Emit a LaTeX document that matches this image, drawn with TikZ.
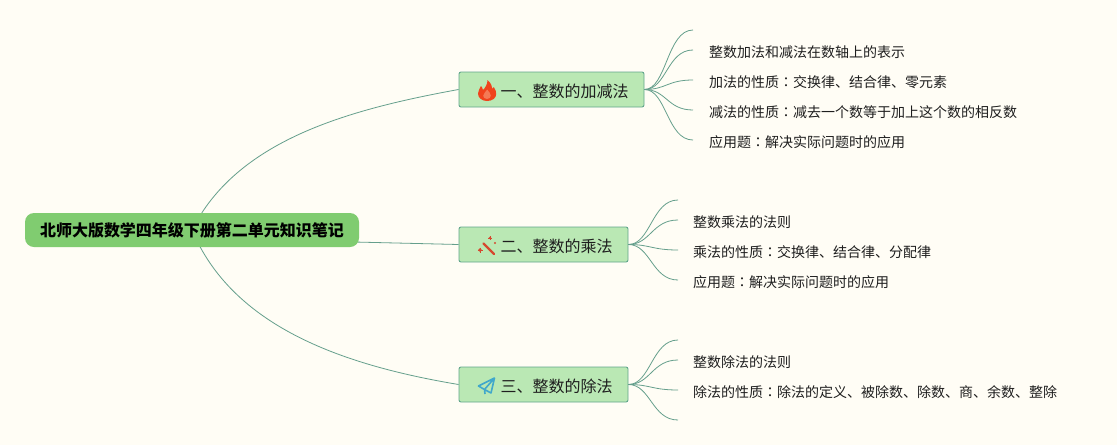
\documentclass[tikz,border=0pt]{standalone}
\usepackage{fontspec}
\setmainfont{Noto Sans CJK SC}
\newfontfamily\tcfont{Noto Sans CJK TC}
\newcommand{\zcolon}{{\tcfont ：}}
\usetikzlibrary{backgrounds}
\definecolor{pagebg}{HTML}{FFFDF5}
\definecolor{rootfill}{HTML}{80CC70}
\definecolor{branchfill}{HTML}{BAE8B4}
\definecolor{branchedge}{HTML}{62A68C}
\definecolor{linkcol}{HTML}{659F8C}
\definecolor{inkcol}{HTML}{1E1E1E}
\definecolor{flamecol}{HTML}{F0431C}
\definecolor{flameinner}{HTML}{F47A55}
\definecolor{wandcol}{HTML}{D5492F}
\definecolor{planecol}{HTML}{41A8CB}
\tikzset{
  x=1pt,y=-1pt,
  rootbox/.style={fill=rootfill,rounded corners=9pt,minimum width=334pt,minimum height=34pt,inner sep=0pt,text height=15.4pt,text depth=2pt,font=\fontsize{16}{16}\selectfont\bfseries,text=black},
  branchbox/.style={draw=branchedge,fill=branchfill,line width=0.9pt,rounded corners=2pt,minimum height=35pt,inner sep=0pt,text height=17pt,text depth=2pt,font=\fontsize{16}{16}\selectfont,text=inkcol},
  leaftext/.style={anchor=west,inner ysep=0pt,inner xsep=0pt,text height=16pt,text depth=1.6pt,font=\fontsize{14}{14}\selectfont,text=inkcol},
  link/.style={draw=linkcol,line width=0.8pt},
  sublink/.style={draw=linkcol,line width=0.8pt},
}
\newcommand{\leaflink}[2]{\draw[sublink] (#1.east) .. controls +(22,0) and +(-26,0) .. (#2);}
\begin{document}
\begin{tikzpicture}
\useasboundingbox (0,0) rectangle (1117,445);

\node[rootbox] (root) at (192,230) {北师大版数学四年级下册第二单元知识笔记};
\node[branchbox,minimum width=185pt] (b1) at (551.5,89.5) {\hspace{26pt}一、整数的加减法};
\node[branchbox,minimum width=169pt] (b2) at (543.5,244.5) {\hspace{26pt}二、整数的乘法};
\node[branchbox,minimum width=169pt] (b3) at (543.5,384.5) {\hspace{26pt}三、整数的除法};

% first branch leaves
\coordinate (e10) at (693,30);
\coordinate (e11) at (693,50);
\coordinate (e12) at (693,80);
\coordinate (e13) at (693,110);
\coordinate (e14) at (693,140);
\node[leaftext,xshift=16pt] (l11) at (e11) {整数加法和减法在数轴上的表示};
\node[leaftext,xshift=16pt] (l12) at (e12) {加法的性质\zcolon 交换律、结合律、零元素};
\node[leaftext,xshift=16pt] (l13) at (e13) {减法的性质\zcolon 减去一个数等于加上这个数的相反数};
\node[leaftext,xshift=16pt] (l14) at (e14) {应用题\zcolon 解决实际问题时的应用};

% second branch leaves
\coordinate (e20) at (678,200);
\coordinate (e21) at (678,220);
\coordinate (e22) at (678,250);
\coordinate (e23) at (678,280);
\node[leaftext,xshift=15pt] (l21) at (e21) {整数乘法的法则};
\node[leaftext,xshift=15pt] (l22) at (e22) {乘法的性质\zcolon 交换律、结合律、分配律};
\node[leaftext,xshift=15pt] (l23) at (e23) {应用题\zcolon 解决实际问题时的应用};

% third branch leaves
\coordinate (e30) at (678,340);
\coordinate (e31) at (678,360);
\coordinate (e32) at (678,390);
\coordinate (e33) at (678,420);
\node[leaftext,xshift=15pt] (l31) at (e31) {整数除法的法则};
\node[leaftext,xshift=15pt] (l32) at (e32) {除法的性质\zcolon 除法的定义、被除数、除数、商、余数、整除};

\begin{scope}[on background layer]
  \fill[pagebg] (0,0) rectangle (1117,445);
  \draw[link] (root.center) .. controls +(45,-90) and +(-110,20) .. (b1.west);
  \draw[link] (root.east) ++(-5,12) coordinate (rootout) -- (b2.west);
  \draw[link] (root.center) .. controls +(40,95) and +(-120,-20) .. (b3.west);
\end{scope}

\foreach \e in {e10,e11,e12,e13,e14}{\leaflink{b1}{\e}}
\foreach \e in {e20,e21,e22,e23}{\leaflink{b2}{\e}}
\foreach \e in {e30,e31,e32,e33}{\leaflink{b3}{\e}}

% flame icon
\fill[flamecol] (487,101) .. controls (481.5,101) and (478,97.5) .. (478,93.5)
  .. controls (478,90.5) and (480,88.5) .. (481,86) .. controls (482,87) and (482.6,88.5) .. (483,90)
  .. controls (485.5,87.5) and (487.5,84) .. (487.5,80) .. controls (491,83) and (492,86) .. (492.5,89)
  .. controls (493,88.5) and (493.5,87.8) .. (493.8,87) .. controls (495.5,89.5) and (496.2,91.5) .. (496.2,94)
  .. controls (496.2,98) and (492.5,101) .. (487,101) -- cycle;
\fill[flameinner] (487,99) .. controls (484.5,99) and (483.2,97.3) .. (483.2,95.6)
  .. controls (483.2,93.5) and (486,92) .. (487.2,89.5) .. controls (489,92) and (490.8,93.5) .. (490.8,95.6)
  .. controls (490.8,97.5) and (489.2,99) .. (487,99) -- cycle;

% wand icon
\draw[wandcol,line width=2.2pt,line cap=round] (483.5,243.5) -- (494,254);
\fill[wandcol] (480,250) circle (1.8pt) (490,238) circle (1.3pt) (495,243) circle (1.2pt);
\draw[wandcol,line width=0.6pt] (477.5,250) -- (482.5,250) (480,247.5) -- (480,252.5)
  (490,236) -- (490,240) (488,238) -- (492,238);

% paper plane icon
\draw[planecol,line width=1.6pt,line join=round] (494.5,378) -- (478.5,386) -- (484.5,389.5) -- (494.5,378) -- (491,393) -- (484.5,389.5) -- (485,394);
\end{tikzpicture}
\end{document}
